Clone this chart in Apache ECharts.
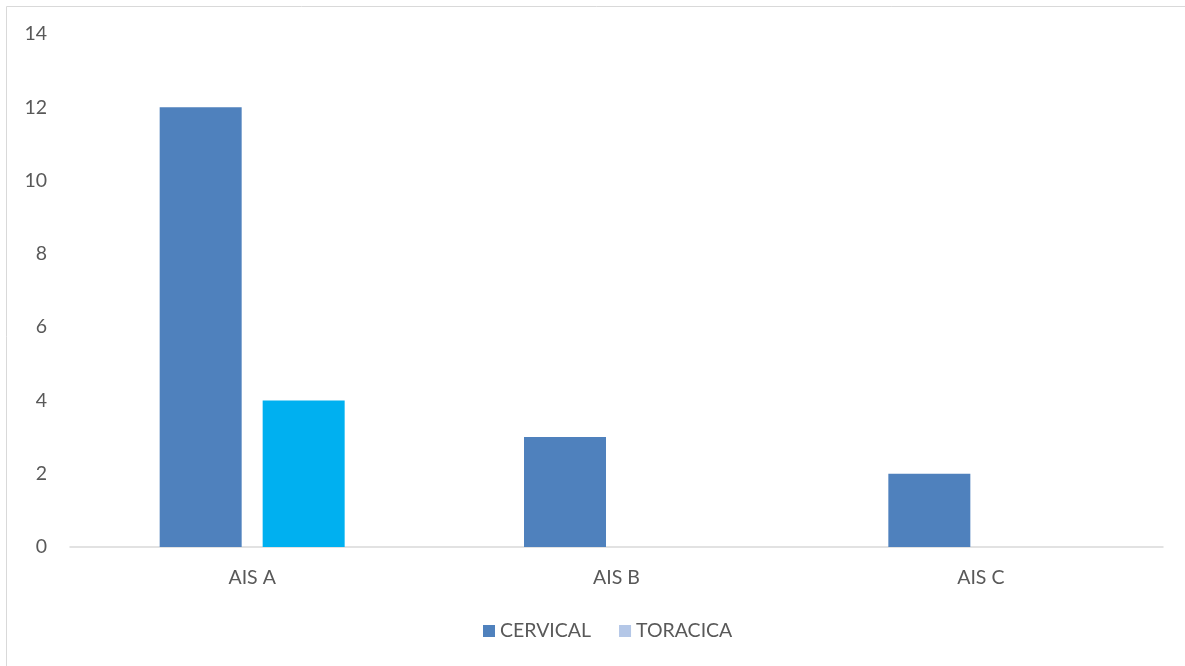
<!DOCTYPE html>
<html>
<head>
<meta charset="utf-8">
<script src="https://cdn.jsdelivr.net/npm/echarts@6/dist/echarts.min.js"></script>
<style>
  html, body { margin: 0; padding: 0; background: #fff; }
  #chart { width: 1185px; height: 666px; }
</style>
</head>
<body>
<div id="chart"></div>
<script>
// Injury level by AIS grade
const categories = ['AIS A', 'AIS B', 'AIS C'];
const cervical = [12, 3, 2];
const toracica = [4, 0, 0];
const yTicks = { min: 0, max: 14, interval: 2 };

const textColor = '#595959';
const fontFamily = 'Lato, "Open Sans", sans-serif';
const fontSize = 19.5;

const chart = echarts.init(document.getElementById('chart'));
chart.setOption({
  animation: false,
  graphic: [{
    type: 'rect',
    shape: { x: 6.5, y: 6.5, width: 1300, height: 800 },
    style: { fill: 'none', stroke: '#d9d9d9', lineWidth: 1 }
  }],
  grid: { left: 70, right: 22, top: 34, bottom: 119 },
  legend: {
    bottom: 20,
    left: 478,
    itemWidth: 12,
    itemHeight: 12,
    itemGap: 28,
    icon: 'rect',
    textStyle: { color: textColor, fontSize: fontSize, fontFamily: fontFamily },
    data: ['CERVICAL', 'TORACICA']
  },
  xAxis: {
    type: 'category',
    data: categories,
    axisLine: { lineStyle: { color: '#d9d9d9', width: 1.5 } },
    axisTick: { show: false },
    axisLabel: { color: textColor, fontSize: fontSize, fontFamily: fontFamily, margin: 21 }
  },
  yAxis: {
    type: 'value',
    min: yTicks.min,
    max: yTicks.max,
    interval: yTicks.interval,
    splitLine: { show: false },
    axisLine: { show: false },
    axisTick: { show: false },
    axisLabel: { color: textColor, fontSize: fontSize, fontFamily: fontFamily, margin: 23 }
  },
  series: [
    {
      name: 'CERVICAL',
      type: 'bar',
      data: cervical,
      barWidth: 82,
      barGap: '25.6%',
      itemStyle: { color: '#4f81bd' }
    },
    {
      name: 'TORACICA',
      type: 'bar',
      data: toracica.map(v => ({ value: v, itemStyle: { color: '#00b0f0' } })),
      barWidth: 82,
      itemStyle: { color: '#b4c7e7' }
    }
  ]
});
</script>
</body>
</html>
